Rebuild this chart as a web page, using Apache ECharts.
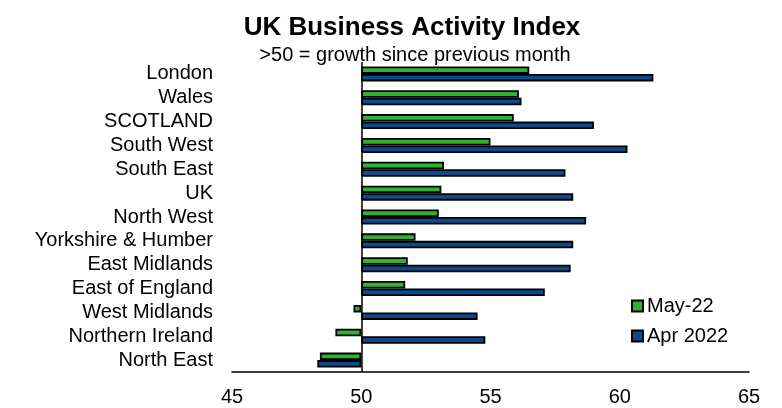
<!DOCTYPE html>
<html>
<head>
<meta charset="utf-8">
<script src="https://cdn.jsdelivr.net/npm/echarts@6/dist/echarts.min.js"></script>
<style>
  html, body { margin: 0; padding: 0; background: #fff; }
  #chart { width: 782px; height: 408px; }
</style>
</head>
<body>
<div id="chart"></div>
<script>
// Regions, top to bottom
const regions = [
  'London', 'Wales', 'SCOTLAND', 'South West', 'South East', 'UK',
  'North West', 'Yorkshire & Humber', 'East Midlands', 'East of England',
  'West Midlands', 'Northern Ireland', 'North East'
];
// Business activity index readings
const may22 = [56.5, 56.1, 55.9, 55.0, 53.2, 53.1, 53.0, 52.1, 51.8, 51.7, 49.7, 49.0, 48.4];
const apr22 = [61.3, 56.2, 59.0, 60.3, 57.9, 58.2, 58.7, 58.2, 58.1, 57.1, 54.5, 54.8, 48.3];
const xTicks = [45, 50, 55, 60, 65];
const neutral = 50; // 50 = no change on the previous month

const FONT = 'Liberation Sans, Arial, sans-serif';
const GREEN = '#2fb32f';
const BLUE = '#0c4a8c';
const BAR_W = 7.5;

// Bars grow out of the 50 line: a hidden base of 50 plus the signed distance from it
const baseline = regions.map(() => neutral);
const offset = arr => arr.map(v => +(v - neutral).toFixed(2));

const chart = echarts.init(document.getElementById('chart'), null, { renderer: 'canvas' });

const hidden = {
  type: 'bar',
  barWidth: BAR_W,
  barGap: '0%',
  silent: true,
  stackStrategy: 'all',
  itemStyle: { color: 'transparent', borderWidth: 0 },
  data: baseline
};

chart.setOption({
  animation: false,
  textStyle: { fontFamily: FONT },
  title: [
    {
      text: 'UK Business Activity Index',
      left: 407, top: 10, textAlign: 'center',
      textStyle: { fontFamily: FONT, fontSize: 26, fontWeight: 'bold', color: '#000' }
    },
    {
      text: '>50 = growth since previous month',
      left: 410, top: 40, textAlign: 'center',
      textStyle: { fontFamily: FONT, fontSize: 20, fontWeight: 'normal', color: '#000' }
    }
  ],
  legend: {
    data: ['May-22', 'Apr 2022'],
    orient: 'vertical',
    left: 626, top: 291,
    itemWidth: 11, itemHeight: 11, itemGap: 10,
    icon: 'rect',
    textStyle: { fontFamily: FONT, fontSize: 20, color: '#000', padding: [0, 0, 0, -1] }
  },
  grid: { left: 232, right: 33, top: 62, bottom: 36, containLabel: false },
  xAxis: {
    type: 'value',
    min: xTicks[0], max: xTicks[xTicks.length - 1], interval: 5,
    axisLine: { show: true, onZero: false, lineStyle: { color: '#000', width: 1.5 } },
    axisTick: { show: false },
    splitLine: { show: false },
    axisLabel: { fontFamily: FONT, fontSize: 20, color: '#000', margin: 15 }
  },
  yAxis: {
    type: 'category',
    data: regions,
    inverse: true,
    axisLine: { show: false },
    axisTick: { show: false },
    axisLabel: { fontFamily: FONT, fontSize: 20, color: '#000', margin: 19, interval: 0 }
  },
  series: [
    Object.assign({}, hidden, { name: 'baseA', stack: 'may' }),
    {
      name: 'May-22', type: 'bar', stack: 'may', stackStrategy: 'all',
      barWidth: BAR_W, barGap: '0%',
      itemStyle: { color: GREEN, borderColor: '#000', borderWidth: 1.8 },
      data: offset(may22),
      markLine: {
        silent: true, symbol: 'none', label: { show: false },
        lineStyle: { color: '#000', width: 1.5, type: 'solid' },
        data: [{ xAxis: neutral }]
      }
    },
    Object.assign({}, hidden, { name: 'baseB', stack: 'apr' }),
    {
      name: 'Apr 2022', type: 'bar', stack: 'apr', stackStrategy: 'all',
      barWidth: BAR_W, barGap: '0%',
      itemStyle: { color: BLUE, borderColor: '#000', borderWidth: 1.8 },
      data: offset(apr22)
    }
  ]
});
</script>
</body>
</html>
